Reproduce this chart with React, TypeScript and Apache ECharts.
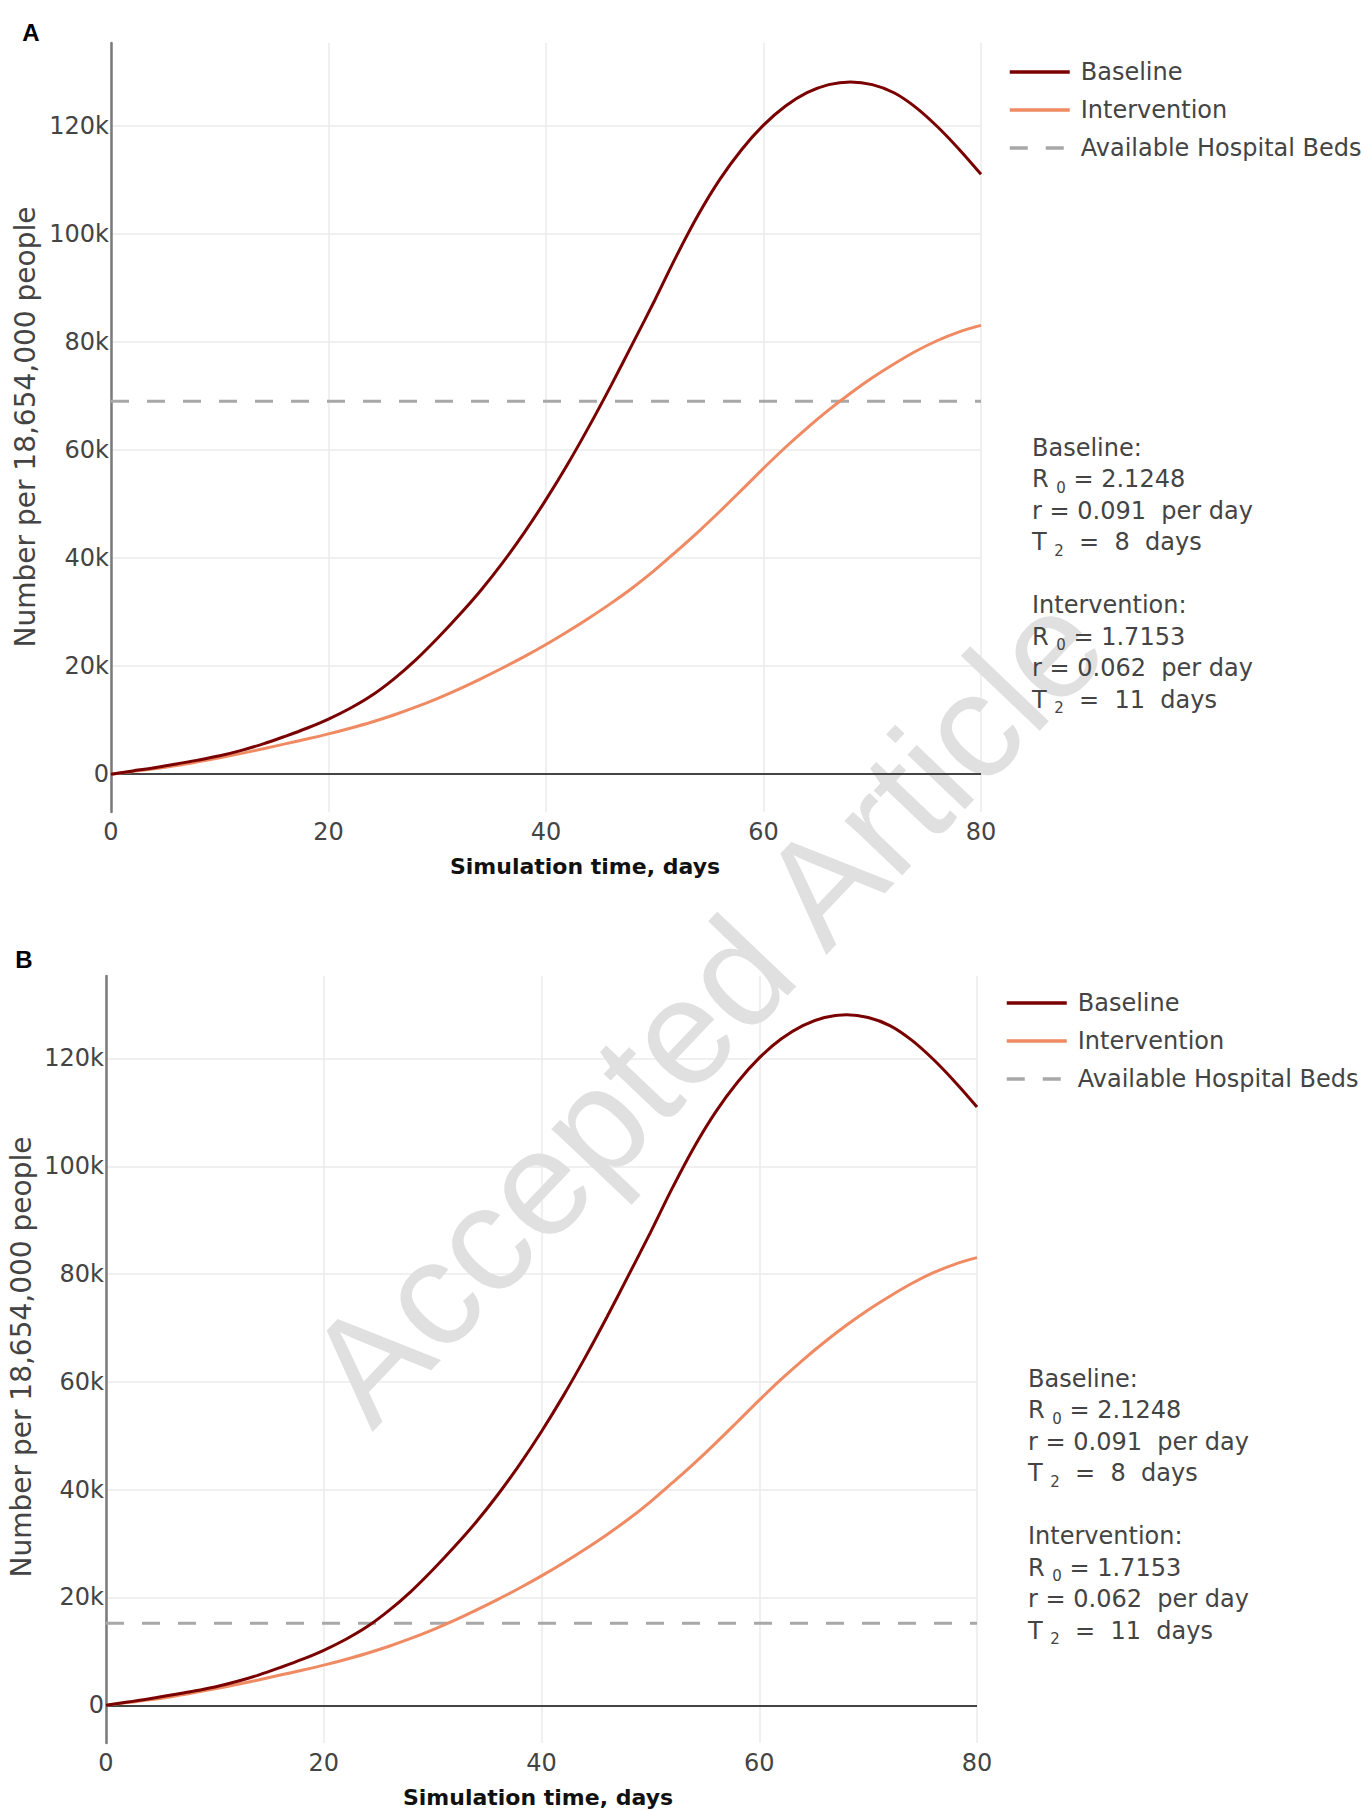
import React, { useEffect, useRef } from "react";
import * as echarts from "echarts";

// ---------- data ----------
const days = [0, 2, 4, 6, 8, 10, 12, 14, 16, 18, 20, 22, 24, 26, 28, 30, 32, 34, 36, 38, 40, 42, 44, 46, 48, 50, 52, 54, 56, 58, 60, 62, 64, 66, 68, 70, 72, 74, 76, 78, 80];
const baseline = [0, 600, 1200, 1900, 2600, 3400, 4400, 5600, 7000, 8500, 10200, 12200, 14600, 17600, 21100, 25100, 29400, 34000, 39100, 44700, 50800, 57400, 64500, 72000, 79800, 87700, 95900, 103500, 110100, 115600, 120100, 123600, 126100, 127600, 128100, 127600, 126100, 123400, 119800, 115600, 111000];
const intervention = [0, 500, 1000, 1600, 2300, 3050, 3850, 4700, 5600, 6500, 7450, 8500, 9650, 10950, 12400, 14000, 15750, 17650, 19650, 21750, 24000, 26400, 28950, 31650, 34550, 37750, 41250, 44850, 48650, 52600, 56600, 60450, 64050, 67400, 70500, 73350, 75900, 78250, 80250, 81850, 83050];
const bedsA = 69000;
const bedsB = 15200;
const yTicks = [0, 20000, 40000, 60000, 80000, 100000, 120000];
const xTicks = [0, 20, 40, 60, 80];
const seriesNames = ["Baseline", "Intervention", "Available Hospital Beds"];
const baselineStats = ["2.1248", "0.091", "8"];
const interventionStats = ["1.7153", "0.062", "11"];

const FONT = "DejaVu Sans";
const TXT = "#444";
const C_BASE = "#7a0000";
const C_INT = "#ef8a62";
const C_BEDS = "#a8a8a8";

function statsText(bs: string[], is: string[]) {
  return [
    "{n|Baseline:}",
    `{n|R }{s|0}{n| = ${bs[0]}}`,
    `{n|r = ${bs[1]}  per day}`,
    `{n|T }{s|2}{n|  =  ${bs[2]}  days}`,
    "{n| }",
    "{n|Intervention:}",
    `{n|R }{s|0}{n| = ${is[0]}}`,
    `{n|r = ${is[1]}  per day}`,
    `{n|T }{s|2}{n|  =  ${is[2]}  days}`,
  ].join("\n");
}

export default function App() {
  const ref = useRef<HTMLDivElement>(null);
  useEffect(() => {
    if (!ref.current) return;
    const chart = echarts.init(ref.current, undefined, { renderer: "svg" });

    const panels = [
      { grid: { left: 111, top: 43, width: 870, height: 769 }, beds: bedsA },
      { grid: { left: 106, top: 976, width: 871, height: 767 }, beds: bedsB },
    ];

    const grids: any[] = [];
    const xAxes: any[] = [];
    const yAxes: any[] = [];
    const series: any[] = [];

    panels.forEach((p, i) => {
      grids.push({ ...p.grid, containLabel: false });
      xAxes.push({
        gridIndex: i,
        type: "value",
        min: xTicks[0],
        max: xTicks[xTicks.length - 1],
        interval: xTicks[1] - xTicks[0],
        axisLine: { show: false },
        axisTick: { show: false },
        axisLabel: { fontSize: 24, color: TXT, fontFamily: FONT, margin: 8 },
        splitLine: { show: true, lineStyle: { color: "#ebebeb", width: 1.5 } },
      });
      yAxes.push({
        gridIndex: i,
        type: "value",
        min: -7000,
        max: 135300,
        axisLine: { show: true, lineStyle: { color: "#7a7a7a", width: 2.5 } },
        axisTick: { show: false, customValues: yTicks },
        axisLabel: {
          customValues: yTicks,
          fontSize: 24,
          color: TXT,
          fontFamily: FONT,
          margin: 2,
          formatter: (v: number) => (v === 0 ? "0" : v / 1000 + "k"),
        },
        splitLine: { show: true, lineStyle: { color: "#ebebeb", width: 1.5 } },
      });
      series.push({
        name: seriesNames[0],
        type: "line",
        xAxisIndex: i,
        yAxisIndex: i,
        data: days.map((d, k) => [d, baseline[k]]),
        smooth: 0.35,
        symbol: "none",
        lineStyle: { color: C_BASE, width: 3 },
        itemStyle: { color: C_BASE },
        z: 4,
        markLine: {
          silent: true,
          symbol: ["none", "none"],
          label: { show: false },
          lineStyle: { color: "#444", width: 2, type: "solid" },
          data: [{ yAxis: 0 }],
          z: 1,
        },
      });
      series.push({
        name: seriesNames[1],
        type: "line",
        xAxisIndex: i,
        yAxisIndex: i,
        data: days.map((d, k) => [d, intervention[k]]),
        smooth: 0.35,
        symbol: "none",
        lineStyle: { color: C_INT, width: 3 },
        itemStyle: { color: C_INT },
        z: 3,
      });
      series.push({
        name: seriesNames[2],
        type: "line",
        xAxisIndex: i,
        yAxisIndex: i,
        data: [
          [xTicks[0], p.beds],
          [xTicks[xTicks.length - 1], p.beds],
        ],
        symbol: "none",
        lineStyle: { color: C_BEDS, width: 3, type: [18, 18] },
        itemStyle: { color: C_BEDS },
        z: 2,
      });
    });

    const legendCommon = {
      orient: "vertical",
      padding: 0,
      itemWidth: 60,
      itemHeight: 14,
      itemGap: 14,
      itemStyle: { opacity: 0 },
      lineStyle: { width: 3.5 },
      textStyle: { fontSize: 24, color: TXT, fontFamily: FONT, padding: [0, 0, 0, 6] },
      data: seriesNames,
      selectedMode: false,
    };

    const textEls: any[] = [];
    const addTexts = (o: {
      label: string; lx: number; ly: number;
      xt: number; xty: number; yt: number; yty: number;
      sx: number; sy: number;
    }) => {
      textEls.push({
        type: "text", x: o.lx, y: o.ly, z: 10,
        style: { text: o.label, font: "bold 24px 'Liberation Sans'", fill: "#000", align: "center", verticalAlign: "middle" },
      });
      textEls.push({
        type: "text", x: o.xt, y: o.xty, z: 10,
        style: { text: "Simulation time, days", font: `bold 22px '${FONT}'`, fill: "#111", align: "center", verticalAlign: "middle" },
      });
      textEls.push({
        type: "text", x: o.yt, y: o.yty, rotation: Math.PI / 2, z: 10,
        style: { text: "Number per 18,654,000 people", font: `28px '${FONT}'`, fill: TXT, align: "center", verticalAlign: "middle" },
      });
      textEls.push({
        type: "text", x: o.sx, y: o.sy, z: 10,
        style: {
          text: statsText(baselineStats, interventionStats),
          rich: {
            n: { fontSize: 24, lineHeight: 31.5, fontFamily: FONT, fill: TXT },
            s: { fontSize: 15, lineHeight: 15, fontFamily: FONT, fill: TXT, verticalAlign: "bottom" },
          },
          align: "left",
          verticalAlign: "top",
        },
      });
    };
    addTexts({ label: "A", lx: 31, ly: 32, xt: 585, xty: 866, yt: 25, yty: 427, sx: 1032, sy: 432 });
    addTexts({ label: "B", lx: 24, ly: 959, xt: 538, xty: 1797, yt: 21, yty: 1357, sx: 1028, sy: 1363 });

    textEls.push({
      type: "text",
      x: 705,
      y: 1007,
      rotation: 0.81,
      z: 1,
      style: {
        text: "Accepted Article",
        font: "150px 'Liberation Sans'",
        fill: "#e0e0e0",
        align: "center",
        verticalAlign: "middle",
      },
    });

    chart.setOption({
      animation: false,
      backgroundColor: "#ffffff",
      grid: grids,
      xAxis: xAxes,
      yAxis: yAxes,
      legend: [
        { ...legendCommon, left: 1008, top: 60 },
        { ...legendCommon, left: 1005, top: 991 },
      ],
      series,
      graphic: { elements: textEls },
    });

    return () => chart.dispose();
  }, []);

  return (
    <div
      ref={ref}
      style={{ position: "absolute", left: 0, top: 0, width: 1363, height: 1811 }}
    />
  );
}
